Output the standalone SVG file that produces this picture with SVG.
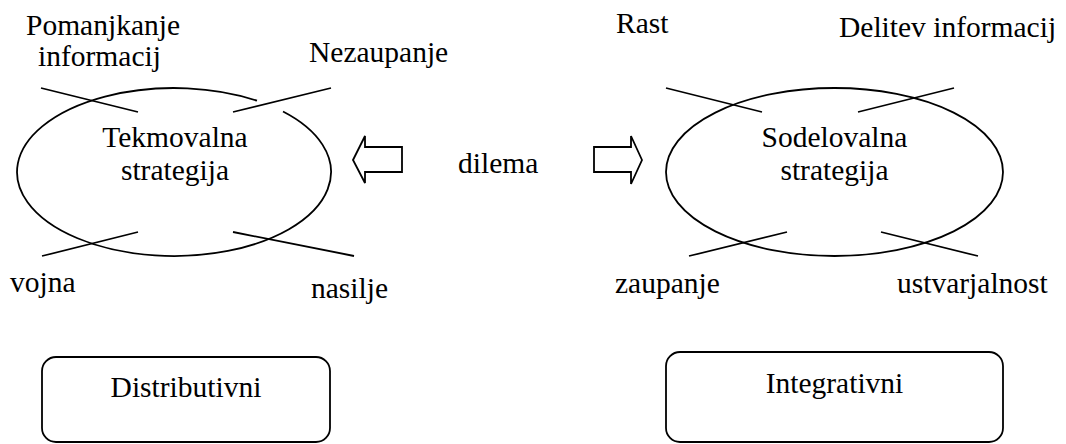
<svg xmlns="http://www.w3.org/2000/svg" width="1066" height="444" viewBox="0 0 1066 444" font-family="'Liberation Serif', 'Times New Roman', serif" font-size="29.5">
  <style>
    .ln { fill: none; stroke: #000; stroke-width: 1.8; }
    .shape { fill: #fff; stroke: #000; stroke-width: 1.8; }
    .t { font-family: 'Liberation Serif', 'Times New Roman', serif; font-size: 29.5px; fill: #000; }
    .c { text-anchor: middle; }
  </style>
  <rect width="1066" height="444" fill="#fff"/>

  <!-- competitive strategy (left ellipse, broken where the Nezaupanje stroke crosses) -->
  <g id="tekmovalna">
    <path class="ln" d="M283,111.54 A157,84 0 1 1 257,100.70"/>
    <text class="t c" x="175" y="147">Tekmovalna</text>
    <text class="t c" x="175" y="180">strategija</text>
  </g>

  <!-- cooperative strategy (right ellipse) -->
  <g id="sodelovalna">
    <ellipse class="ln" cx="834.5" cy="172" rx="168.5" ry="84"/>
    <text class="t c" x="834.5" y="147">Sodelovalna</text>
    <text class="t c" x="834.5" y="180">strategija</text>
  </g>

  <!-- factor labels around the ellipses -->
  <g id="pomanjkanje"><text class="t" x="26" y="35">Pomanjkanje</text><text class="t" x="38" y="66">informacij</text></g>
  <g id="nezaupanje"><text class="t" x="309" y="62">Nezaupanje</text></g>
  <g id="vojna"><text class="t" x="10" y="292">vojna</text></g>
  <g id="nasilje"><text class="t" x="311" y="298">nasilje</text></g>
  <g id="rast"><text class="t" x="616" y="33">Rast</text></g>
  <g id="delitev"><text class="t" x="839" y="37">Delitev informacij</text></g>
  <g id="zaupanje"><text class="t" x="615" y="293">zaupanje</text></g>
  <g id="ustvarjalnost"><text class="t" x="897" y="293">ustvarjalnost</text></g>

  <!-- dilemma in the middle, with block arrows pointing to each strategy -->
  <g id="dilema">
    <text class="t" x="458" y="173">dilema</text>
  </g>
  <g id="arrow-left">
    <polygon class="shape" points="353,160 365,136 365,147 402,147 402,172 365,172 365,183"/>
  </g>
  <g id="arrow-right">
    <polygon class="shape" points="642,160 631,136 631,147 594,147 594,172 631,172 631,184"/>
  </g>

  <!-- negotiation types -->
  <g id="distributivni">
    <rect class="ln" x="42" y="357" width="288" height="85" rx="14" ry="14"/>
    <text class="t c" x="186" y="397">Distributivni</text>
  </g>
  <g id="integrativni">
    <rect class="ln" x="666" y="352" width="337" height="90" rx="14" ry="14"/>
    <text class="t c" x="834.5" y="393">Integrativni</text>
  </g>

  <!-- strokes linking the labels to the ellipses -->
  <g id="connectors" class="ln">
    <line x1="41" y1="88" x2="138" y2="112"/>
    <line x1="233" y1="112" x2="331" y2="88"/>
    <line x1="42" y1="256" x2="138" y2="232"/>
    <line x1="233" y1="232" x2="354" y2="256"/>
    <line x1="666" y1="88" x2="762" y2="112"/>
    <line x1="858" y1="112" x2="954" y2="88"/>
    <line x1="689" y1="256" x2="787" y2="232"/>
    <line x1="881" y1="232" x2="978" y2="256"/>
  </g>
</svg>
